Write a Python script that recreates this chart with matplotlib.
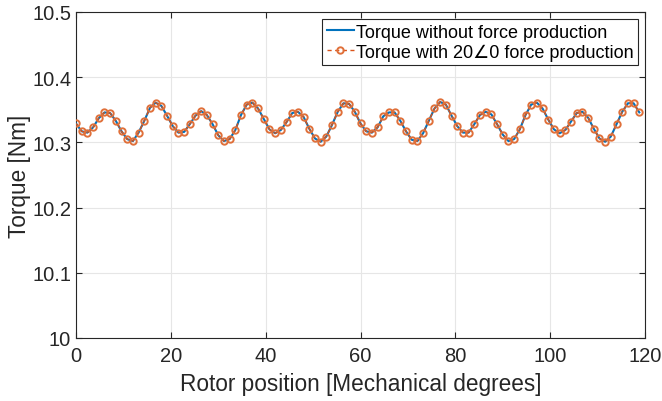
import matplotlib
matplotlib.use("Agg")
import matplotlib.pyplot as plt
import numpy as np

# Rotor position sampled every 1.2 mechanical degrees
step_deg = 1.2
torque_without = [
    10.329, 10.317, 10.315, 10.323, 10.337, 10.346, 10.345, 10.333, 10.317, 10.305,
    10.302, 10.315, 10.333, 10.353, 10.361, 10.356, 10.341, 10.325, 10.315, 10.316,
    10.328, 10.341, 10.348, 10.342, 10.328, 10.311, 10.302, 10.305, 10.319, 10.342,
    10.358, 10.361, 10.352, 10.336, 10.320, 10.314, 10.319, 10.331, 10.345, 10.347,
    10.339, 10.321, 10.306, 10.301, 10.309, 10.327, 10.347, 10.360, 10.359, 10.347,
    10.329, 10.317, 10.315, 10.323, 10.340, 10.346, 10.346, 10.333, 10.317, 10.304,
    10.302, 10.314, 10.333, 10.352, 10.362, 10.358, 10.341, 10.325, 10.315, 10.315,
    10.328, 10.342, 10.347, 10.343, 10.328, 10.312, 10.302, 10.305, 10.320, 10.342,
    10.358, 10.361, 10.352, 10.335, 10.320, 10.314, 10.319, 10.332, 10.345, 10.347,
    10.338, 10.321, 10.306, 10.301, 10.309, 10.328, 10.347, 10.360, 10.360, 10.346,
]
torque_with = [
    10.329, 10.317, 10.315, 10.323, 10.337, 10.346, 10.345, 10.333, 10.317, 10.305,
    10.302, 10.315, 10.333, 10.353, 10.361, 10.356, 10.341, 10.325, 10.315, 10.316,
    10.328, 10.341, 10.348, 10.342, 10.328, 10.311, 10.302, 10.305, 10.319, 10.342,
    10.358, 10.361, 10.352, 10.336, 10.320, 10.314, 10.319, 10.331, 10.345, 10.347,
    10.339, 10.321, 10.306, 10.301, 10.309, 10.327, 10.347, 10.360, 10.359, 10.347,
    10.329, 10.317, 10.315, 10.323, 10.340, 10.346, 10.346, 10.333, 10.317, 10.304,
    10.302, 10.314, 10.333, 10.352, 10.362, 10.358, 10.341, 10.325, 10.315, 10.315,
    10.328, 10.342, 10.347, 10.343, 10.328, 10.312, 10.302, 10.305, 10.320, 10.342,
    10.358, 10.361, 10.352, 10.335, 10.320, 10.314, 10.319, 10.332, 10.345, 10.347,
    10.338, 10.321, 10.306, 10.301, 10.309, 10.328, 10.347, 10.360, 10.360, 10.346,
]
position = [i * step_deg for i in range(len(torque_without))]

xticks = [0, 20, 40, 60, 80, 100, 120]
yticks = [10, 10.1, 10.2, 10.3, 10.4, 10.5]
ytick_labels = ["10", "10.1", "10.2", "10.3", "10.4", "10.5"]

label_without = "Torque without force production"
label_with = "Torque with 20\u22200 force production"

plt.rcParams['font.family'] = ['Liberation Sans', 'DejaVu Sans']

fig = plt.figure(figsize=(6.62, 4.02), dpi=100)
ax = fig.add_axes([76 / 662, 1 - 339 / 402, (645 - 76) / 662, (339 - 13) / 402])

ax.plot(position, torque_without, color='#0072BD', lw=1.5, label=label_without, zorder=3)
ax.plot(position, torque_with, color='#D95319', lw=1.0, ls=(0, (3, 2.5)),
        marker='o', markersize=4.6, markerfacecolor='none', markeredgewidth=1.4,
        markeredgecolor='#E0703A', label=label_with, zorder=4)

ax.set_xlim(0, 120)
ax.set_ylim(10, 10.5)
ax.set_xticks(xticks)
ax.set_yticks(yticks)
ax.set_yticklabels(ytick_labels)
ax.grid(True, color='#E6E6E6', lw=0.8)
ax.set_axisbelow(True)
ax.tick_params(direction='in', top=True, right=True, labelsize=14.5,
               colors='#262626', length=4, width=0.8)
ax.tick_params(axis='x', pad=6)
for s in ax.spines.values():
    s.set_color('#262626')
    s.set_linewidth(0.8)

ax.set_xlabel("Rotor position [Mechanical degrees]", fontsize=16.3, color='#262626', labelpad=5)
ax.set_ylabel("Torque [Nm]", fontsize=16.3, color='#262626', labelpad=1)

leg = ax.legend(loc='upper right', fontsize=13, numpoints=1, handlelength=1.5,
                handletextpad=0.1, borderaxespad=0.4, borderpad=0.25,
                labelspacing=0.15, fancybox=False, framealpha=1, edgecolor='#262626')
leg.get_frame().set_linewidth(0.8)

fig.savefig("out.png", dpi=100)
